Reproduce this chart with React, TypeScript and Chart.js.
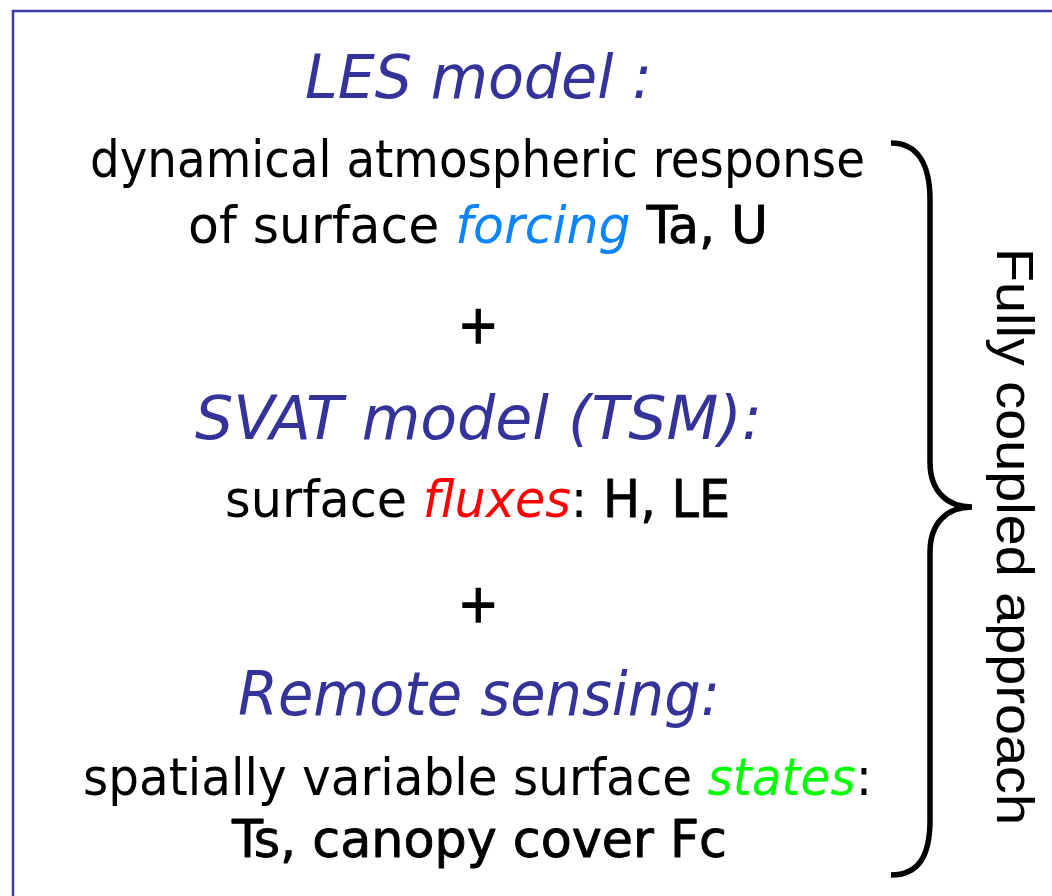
import React, { useEffect, useRef } from "react";
import { Chart, registerables } from "chart.js";

Chart.register(...registerables);

// ---- content (text data) ----
const headings: string[] = ["LES model :", "SVAT model (TSM):", "Remote sensing:"];

type Seg = [string, string]; // [text, role]
const lesLines: Seg[][] = [
  [["dynamical atmospheric response", "plain"]],
  [["of surface ", "plain"], ["forcing", "forcing"], [" Ta, U", "strong"]],
];
const svatLines: Seg[][] = [
  [["surface ", "plain"], ["fluxes", "fluxes"], [": ", "plain"], ["H, LE", "strong"]],
];
const rsLines: Seg[][] = [
  [["spatially variable surface ", "plain"], ["states", "states"], [":", "plain"]],
  [["Ts, canopy cover Fc", "strong"]],
];
const joiners: string[] = ["+", "+"];
const sideLabel = "Fully coupled approach";

// ---- layout (positions in the 1052x896 frame) ----
const headingBoxes = [
  { l: 305, r: 652, b: 98 },
  { l: 195, r: 762, b: 439 },
  { l: 238, r: 720, b: 715 },
];
const bodyBoxes = [
  [{ l: 90, r: 865, b: 177 }, { l: 188, r: 768, b: 243 }],
  [{ l: 225, r: 730, b: 517 }],
  [{ l: 83, r: 872, b: 795 }, { l: 232, r: 727, b: 857 }],
];
const joinerBoxes = [
  { cx: 478, cy: 325, w: 32, h: 35 },
  { cx: 478, cy: 604, w: 32, h: 35 },
];
const sideBox = { x: 997, y0: 248, y1: 825 };

const SANS = '"DejaVu Sans Condensed", "DejaVu Sans", Tahoma, sans-serif';
const ARIAL = '"Liberation Sans", Arial, sans-serif';
const TITLE_COLOR = "#333399";
const roleStyle: Record<string, { font: (s: number) => string; color: string; strong?: boolean }> = {
  plain: { font: (s) => `${s}px ${SANS}`, color: "#000000" },
  strong: { font: (s) => `${s}px ${SANS}`, color: "#000000", strong: true },
  forcing: { font: (s) => `italic ${s}px ${SANS}`, color: "#0a84ff" },
  fluxes: { font: (s) => `italic ${s}px ${SANS}`, color: "#ff0000" },
  states: { font: (s) => `italic ${s}px ${SANS}`, color: "#00ff00" },
  heading: { font: (s) => `italic ${s}px ${SANS}`, color: TITLE_COLOR },
};

const BODY_SIZE = 51;
const HEAD_SIZE = 61;

const diagramPlugin = {
  id: "diagram",
  afterDraw(chart: any) {
    const ctx: CanvasRenderingContext2D = chart.ctx;
    const xs = chart.scales.x;
    const ys = chart.scales.y;
    const px = (v: number) => xs.getPixelForValue(v);
    const py = (v: number) => ys.getPixelForValue(v);

    ctx.save();
    ctx.textAlign = "left";
    ctx.textBaseline = "alphabetic";

    // frame
    ctx.strokeStyle = "#3c3ca0";
    ctx.lineWidth = 2.5;
    ctx.beginPath();
    ctx.moveTo(px(1060), py(11));
    ctx.lineTo(px(13), py(11));
    ctx.lineTo(px(13), py(900));
    ctx.stroke();

    const drawLine = (segs: Seg[], box: { l: number; r: number; b: number }, size: number) => {
      let total = 0;
      const widths = segs.map(([t, role]) => {
        ctx.font = roleStyle[role].font(size);
        const w = ctx.measureText(t).width;
        total += w;
        return w;
      });
      const left = px(box.l);
      const right = px(box.r);
      const sx = (right - left) / total;
      ctx.save();
      ctx.translate(left, py(box.b));
      ctx.scale(sx, 1);
      let x = 0;
      segs.forEach(([t, role], i) => {
        const st = roleStyle[role];
        ctx.font = st.font(size);
        ctx.fillStyle = st.color;
        ctx.fillText(t, x, 0);
        if (st.strong) {
          ctx.strokeStyle = st.color;
          ctx.lineWidth = 0.8;
          ctx.lineJoin = "round";
          ctx.strokeText(t, x, 0);
        }
        x += widths[i];
      });
      ctx.restore();
    };

    headings.forEach((h, i) => drawLine([[h, "heading"]], headingBoxes[i], HEAD_SIZE));
    [lesLines, svatLines, rsLines].forEach((lines, i) =>
      lines.forEach((segs, j) => drawLine(segs, bodyBoxes[i][j], BODY_SIZE))
    );

    // joiners "+"
    joiners.forEach((j, i) => {
      const b = joinerBoxes[i];
      ctx.font = `${BODY_SIZE}px ${SANS}`;
      const m = ctx.measureText(j);
      const gw = m.actualBoundingBoxLeft + m.actualBoundingBoxRight;
      const gh = m.actualBoundingBoxAscent + m.actualBoundingBoxDescent;
      const sx = b.w / gw;
      const sy = b.h / gh;
      ctx.save();
      ctx.translate(px(b.cx), py(b.cy));
      ctx.scale(sx, sy);
      ctx.fillStyle = "#000000";
      ctx.strokeStyle = "#000000";
      ctx.lineWidth = 1.2;
      const ox = -(m.actualBoundingBoxRight - m.actualBoundingBoxLeft) / 2;
      const oy = (m.actualBoundingBoxAscent - m.actualBoundingBoxDescent) / 2;
      ctx.fillText(j, ox, oy);
      ctx.strokeText(j, ox, oy);
      ctx.restore();
    });

    // brace
    ctx.strokeStyle = "#000000";
    ctx.lineWidth = 5.5;
    ctx.lineCap = "butt";
    ctx.lineJoin = "miter";
    ctx.beginPath();
    ctx.moveTo(px(891), py(143));
    ctx.bezierCurveTo(px(918), py(143), px(930), py(165), px(930), py(200));
    ctx.lineTo(px(930), py(462));
    ctx.bezierCurveTo(px(930), py(492), px(948), py(507), px(972), py(507));
    ctx.bezierCurveTo(px(948), py(507), px(930), py(522), px(930), py(552));
    ctx.lineTo(px(930), py(820));
    ctx.bezierCurveTo(px(930), py(857), px(918), py(875), px(891), py(875));
    ctx.stroke();

    // vertical label
    ctx.save();
    ctx.translate(px(sideBox.x), py(sideBox.y0));
    ctx.rotate(Math.PI / 2);
    ctx.font = `52px ${ARIAL}`;
    const w = ctx.measureText(sideLabel).width;
    ctx.scale((py(sideBox.y1) - py(sideBox.y0)) / w, 1);
    ctx.fillStyle = "#000000";
    ctx.fillText(sideLabel, 0, 0);
    ctx.restore();

    ctx.restore();
  },
};

export default function App() {
  const ref = useRef<HTMLCanvasElement | null>(null);
  useEffect(() => {
    if (!ref.current) return;
    const chart = new Chart(ref.current, {
      type: "scatter",
      data: { datasets: [] },
      options: {
        animation: false,
        responsive: false,
        maintainAspectRatio: false,
        layout: { padding: 0 },
        plugins: { legend: { display: false }, tooltip: { enabled: false }, title: { display: false } },
        scales: {
          x: { type: "linear", min: 0, max: 1052, display: false },
          y: { type: "linear", min: 0, max: 896, reverse: true, display: false },
        },
      },
      plugins: [diagramPlugin],
    });
    return () => chart.destroy();
  }, []);
  return (
    <div style={{ position: "fixed", left: 0, top: 0, width: 1052, height: 896, background: "#ffffff" }}>
      <canvas ref={ref} width={1052} height={896} style={{ display: "block", width: 1052, height: 896 }} />
    </div>
  );
}
